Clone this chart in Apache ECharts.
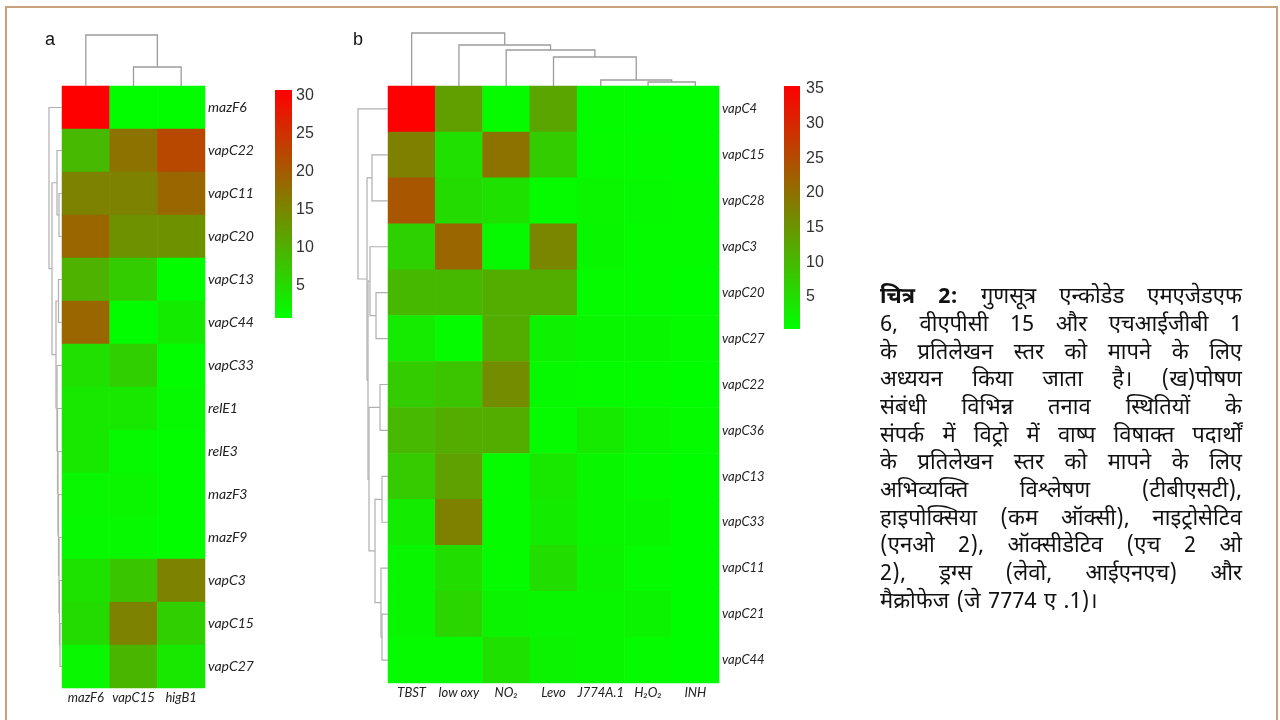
<!DOCTYPE html>
<html><head><meta charset="utf-8">
<script src="https://cdn.jsdelivr.net/npm/echarts@6/dist/echarts.min.js"></script>
<style>html,body{margin:0;padding:0;background:#fff}#c{width:1280px;height:720px}</style>
</head><body><div id="c"></div>
<script>
// ---------- data ----------
const colsA = ['mazF6', 'vapC15', 'higB1'];
const rowsA = ['mazF6', 'vapC22', 'vapC11', 'vapC20', 'vapC13', 'vapC44', 'vapC33', 'relE1', 'relE3', 'mazF3', 'mazF9', 'vapC3', 'vapC15', 'vapC27'];
const valuesA = [
  [30.8, 1.0, 1.0],
  [9.0, 17.3, 22.4],
  [15.5, 15.5, 18.8],
  [18.8, 13.7, 13.7],
  [9.8, 6.8, 1.0],
  [18.8, 1.0, 3.0],
  [4.4, 6.5, 1.0],
  [3.5, 3.5, 1.5],
  [3.5, 1.5, 1.0],
  [1.8, 2.0, 1.0],
  [1.5, 1.5, 1.0],
  [4.2, 7.5, 15.5],
  [5.0, 15.5, 6.5],
  [1.8, 9.5, 3.5]
];
const colsB = ['TBST', 'low oxy', 'NO₂', 'Levo', 'J774A.1', 'H₂O₂', 'INH'];
const rowsB = ['vapC4', 'vapC15', 'vapC28', 'vapC3', 'vapC20', 'vapC27', 'vapC22', 'vapC36', 'vapC13', 'vapC33', 'vapC11', 'vapC21', 'vapC44'];
const valuesB = [
  [35.4, 13.7, 1.0, 12.7, 0.8, 0.5, 0.5],
  [17.9, 4.6, 19.6, 7.4, 1.0, 0.8, 0.5],
  [23.5, 5.3, 4.5, 1.0, 1.8, 1.2, 0.8],
  [6.7, 21.4, 1.2, 17.2, 1.5, 0.8, 0.8],
  [10.2, 10.2, 11.6, 11.6, 1.0, 0.8, 0.6],
  [3.2, 1.0, 11.6, 2.2, 1.5, 1.5, 0.8],
  [7.4, 8.4, 16.2, 1.2, 1.0, 0.8, 0.6],
  [10.0, 11.6, 11.6, 1.0, 3.3, 1.8, 0.8],
  [7.6, 13.3, 1.0, 3.5, 1.5, 1.0, 0.6],
  [3.0, 17.7, 1.0, 3.0, 1.5, 1.5, 0.6],
  [1.5, 5.0, 1.0, 5.0, 2.0, 1.0, 0.6],
  [1.5, 6.2, 2.0, 1.5, 1.5, 2.0, 0.6],
  [1.0, 1.0, 4.5, 2.0, 1.5, 1.0, 0.6]
];
const ticksA = [5, 10, 15, 20, 25, 30];
const ticksB = [5, 10, 15, 20, 25, 30, 35];
const rangeA = [0.8, 30.8];
const rangeB = [0.4, 35.4];
// dendrogram merges (hclust style: negative = leaf -(index+1), positive = earlier merge 1-based), height
const colMergeA = [[-2, -3, 19], [-1, 1, 51]];
const colMergeB = [[-6, -7, 4], [-5, 1, 6], [-4, 2, 29], [-3, 3, 36], [-2, 4, 41], [-1, 5, 53]];
const rowMergeA = [[-13, -14, 2], [-12, 1, 2.5], [-11, 2, 3], [-10, 3, 3.5], [-9, 4, 4], [-8, 5, 4.5], [-7, 6, 5],
  [-5, -6, 3.5], [8, 7, 6], [-3, -4, 3], [-2, 10, 5], [11, 9, 10], [-1, 12, 13]];
const rowMergeB = [[-2, -3, 16], [-5, -6, 12], [-4, 2, 18], [-7, -8, 8], [-9, -10, 6], [-12, -13, 6], [-11, 6, 7],
  [5, 7, 13], [4, 8, 19], [3, 9, 20], [1, 10, 21], [-1, 11, 30]];
const captionLines = [
  'चित्र 2: गुणसूत्र एन्कोडेड एमएजेडएफ',
  '6, वीएपीसी 15 और एचआईजीबी 1',
  'के प्रतिलेखन स्तर को मापने के लिए',
  'अध्ययन किया जाता है। (ख)पोषण',
  'संबंधी विभिन्न तनाव स्थितियों के',
  'संपर्क में विट्रो में वाष्प विषाक्त पदार्थों',
  'के प्रतिलेखन स्तर को मापने के लिए',
  'अभिव्यक्ति विश्लेषण (टीबीएसटी),',
  'हाइपोक्सिया (कम ऑक्सी), नाइट्रोसेटिव',
  '(एनओ 2), ऑक्सीडेटिव (एच 2 ओ',
  '2), ड्रग्स (लेवो, आईएनएच) और',
  'मैक्रोफेज (जे 7774 ए .1)।'
];

// ---------- helpers ----------
function heatData(m) {
  const out = [];
  m.forEach((row, r) => row.forEach((v, c) => out.push([c, r, v])));
  return out;
}
function dendroSegments(merges) {
  const pos = [], ht = [];
  const get = c => c < 0 ? { p: -c - 1, h: 0 } : { p: pos[c - 1], h: ht[c - 1] };
  return merges.map((m, k) => {
    const a = get(m[0]), b = get(m[1]);
    pos[k] = (a.p + b.p) / 2; ht[k] = m[2];
    return [a.p, b.p, m[2], a.h, b.h];
  });
}
function colRender(params, api) {
  const xl = api.value(0), xr = api.value(1), h = api.value(2), hl = api.value(3), hr = api.value(4);
  return { type: 'polyline', shape: { points: [api.coord([xl, hl]), api.coord([xl, h]), api.coord([xr, h]), api.coord([xr, hr])] },
    style: { stroke: '#9c9c9c', lineWidth: 1.3, fill: null } };
}
function rowRender(params, api) {
  const yl = api.value(0), yr = api.value(1), h = api.value(2), hl = api.value(3), hr = api.value(4);
  return { type: 'polyline', shape: { points: [api.coord([hl, yl]), api.coord([h, yl]), api.coord([h, yr]), api.coord([hr, yr])] },
    style: { stroke: '#b0b0b0', lineWidth: 1.2, fill: null } };
}
function cbRender(params, api) {
  const p1 = api.coord([0, api.value(1)]), p2 = api.coord([1, api.value(0)]);
  return { type: 'rect', shape: { x: p1[0], y: p1[1], width: p2[0] - p1[0], height: p2[1] - p1[1] },
    style: { fill: new echarts.graphic.LinearGradient(0, 0, 0, 1, [{ offset: 0, color: '#ff0000' }, { offset: 1, color: '#00ff00' }]) } };
}
const hidden = { show: false };
const LBL = 'Lato, "Open Sans", sans-serif';

const grids = [
  { left: 62, top: 86, width: 143, height: 602 },    // 0 heat A
  { left: 62, top: 30, width: 143, height: 56 },     // 1 col dendro A
  { left: 44, top: 86, width: 18, height: 602 },     // 2 row dendro A
  { left: 275, top: 90, width: 17, height: 228 },    // 3 colorbar A
  { left: 388, top: 86, width: 331, height: 597 },   // 4 heat B
  { left: 388, top: 30, width: 331, height: 56 },    // 5 col dendro B
  { left: 350, top: 86, width: 38, height: 597 },    // 6 row dendro B
  { left: 784, top: 86, width: 16, height: 243 }     // 7 colorbar B
];
function heatX(gi, cats, fs) {
  return { type: 'category', gridIndex: gi, data: cats, axisLine: hidden, axisTick: hidden, splitLine: hidden,
    axisLabel: { fontStyle: 'italic', fontSize: fs, color: '#222', margin: 3, fontFamily: LBL, interval: 0 } };
}
function heatY(gi, cats, fs) {
  return { type: 'category', gridIndex: gi, data: cats, inverse: true, position: 'right', axisLine: hidden, axisTick: hidden, splitLine: hidden,
    axisLabel: { fontStyle: 'italic', fontSize: fs, color: '#222', margin: 3, fontFamily: LBL, interval: 0 } };
}
function valAx(gi, min, max, inverse) {
  return { type: 'value', gridIndex: gi, min: min, max: max, inverse: !!inverse, show: false };
}
function cbY(gi, range, ticks, margin) {
  return { type: 'value', gridIndex: gi, min: range[0], max: range[1], position: 'right',
    axisLine: hidden, axisTick: hidden, splitLine: hidden,
    axisLabel: { customValues: ticks, fontSize: 16, color: '#333', margin: margin, fontFamily: '"Liberation Sans", Arial, sans-serif' } };
}

const option = {
  animation: false,
  backgroundColor: '#fff',
  grid: grids,
  xAxis: [
    heatX(0, colsA, 13),
    valAx(1, -0.5, colsA.length - 0.5),
    valAx(2, 0, 18, true),
    valAx(3, 0, 1),
    heatX(4, colsB, 13),
    valAx(5, -0.5, colsB.length - 0.5),
    valAx(6, 0, 38, true),
    valAx(7, 0, 1)
  ],
  yAxis: [
    heatY(0, rowsA, 14),
    valAx(1, 0, 56),
    valAx(2, -0.5, rowsA.length - 0.5, true),
    cbY(3, rangeA, ticksA, 4),
    heatY(4, rowsB, 13),
    valAx(5, 0, 56),
    valAx(6, -0.5, rowsB.length - 0.5, true),
    cbY(7, rangeB, ticksB, 6)
  ],
  visualMap: [
    { type: 'continuous', show: false, seriesIndex: 0, min: rangeA[0], max: rangeA[1], inRange: { color: ['#00ff00', '#ff0000'] } },
    { type: 'continuous', show: false, seriesIndex: 4, min: rangeB[0], max: rangeB[1], inRange: { color: ['#00ff00', '#ff0000'] } }
  ],
  series: [
    { type: 'heatmap', xAxisIndex: 0, yAxisIndex: 0, data: heatData(valuesA), itemStyle: { borderWidth: 0 }, emphasis: { disabled: true } },
    { type: 'custom', xAxisIndex: 1, yAxisIndex: 1, renderItem: colRender, data: dendroSegments(colMergeA), encode: { x: 0, y: 2 }, clip: false, silent: true },
    { type: 'custom', xAxisIndex: 2, yAxisIndex: 2, renderItem: rowRender, data: dendroSegments(rowMergeA), encode: { x: 2, y: 0 }, clip: false, silent: true },
    { type: 'custom', xAxisIndex: 3, yAxisIndex: 3, renderItem: cbRender, data: [rangeA], encode: { y: [0, 1] }, clip: false, silent: true },
    { type: 'heatmap', xAxisIndex: 4, yAxisIndex: 4, data: heatData(valuesB), itemStyle: { borderWidth: 0 }, emphasis: { disabled: true } },
    { type: 'custom', xAxisIndex: 5, yAxisIndex: 5, renderItem: colRender, data: dendroSegments(colMergeB), encode: { x: 0, y: 2 }, clip: false, silent: true },
    { type: 'custom', xAxisIndex: 6, yAxisIndex: 6, renderItem: rowRender, data: dendroSegments(rowMergeB), encode: { x: 2, y: 0 }, clip: false, silent: true },
    { type: 'custom', xAxisIndex: 7, yAxisIndex: 7, renderItem: cbRender, data: [rangeB], encode: { y: [0, 1] }, clip: false, silent: true }
  ]
};

// ---------- caption (justified, word by word) ----------
const CAP_FONT = '"Noto Sans Devanagari", "Lohit Devanagari", "FreeSans", "Noto Sans", sans-serif';
const CAP_SIZE = 22, CAP_LEFT = 880, CAP_RIGHT = 1242, CAP_TOP = 299, CAP_LH = 27.7;
const mctx = document.createElement('canvas').getContext('2d');
function measure(t, bold) { mctx.font = (bold ? 'bold ' : '') + CAP_SIZE + 'px ' + CAP_FONT; return mctx.measureText(t).width; }
const graphics = [
  { type: 'rect', shape: { x: 6, y: 7, width: 1271, height: 730 }, style: { fill: null, stroke: '#c9a27d', lineWidth: 2 }, silent: true },
  { type: 'text', x: 50, y: 40, style: { text: 'a', fontSize: 18, fill: '#111', fontFamily: '"Liberation Sans", Arial, sans-serif', align: 'center', verticalAlign: 'middle' } },
  { type: 'text', x: 358, y: 40, style: { text: 'b', fontSize: 18, fill: '#111', fontFamily: '"Liberation Sans", Arial, sans-serif', align: 'center', verticalAlign: 'middle' } }
];
captionLines.forEach((line, li) => {
  const words = line.split(' ');
  const bolds = words.map((w, wi) => li === 0 && wi < 2);
  const widths = words.map((w, wi) => measure(w, bolds[wi]));
  const total = widths.reduce((a, b) => a + b, 0);
  const last = li === captionLines.length - 1;
  const space = measure(' ', false);
  let gap = (last || words.length < 2) ? space * 1.3 : (CAP_RIGHT - CAP_LEFT - total) / (words.length - 1);
  if (gap < space * 0.6) gap = space * 0.6;
  let x = CAP_LEFT;
  const y = CAP_TOP + li * CAP_LH;
  words.forEach((w, wi) => {
    graphics.push({ type: 'text', x: x, y: y, silent: true,
      style: { text: w, fontSize: CAP_SIZE, fontFamily: CAP_FONT, fontWeight: bolds[wi] ? 'bold' : 'normal', fill: '#111', align: 'left', verticalAlign: 'middle' } });
    x += widths[wi] + gap;
  });
});
option.graphic = graphics;

const chart = echarts.init(document.getElementById('c'), null, { renderer: 'canvas' });
chart.setOption(option);
</script>
</body></html>
